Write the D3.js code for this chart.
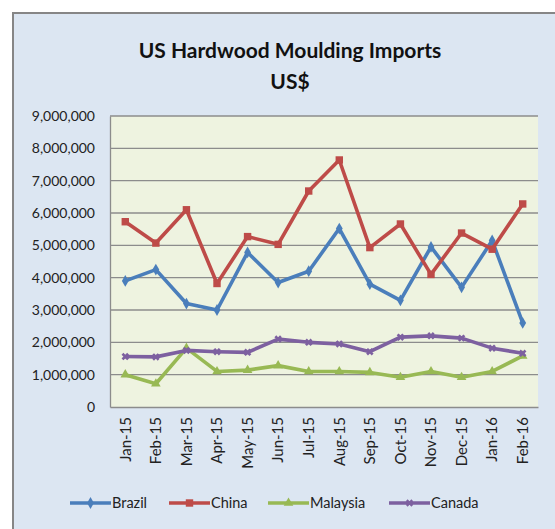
<!DOCTYPE html>
<html>
  <head>
    <meta charset="utf-8">
    <title>US Hardwood Moulding Imports</title>
    <style media="screen">
    body{margin: 0; background: #fff}
    text{font-family: Lato, "Open Sans", sans-serif}
    </style>
  </head>
  <body>
    <script src="https://d3js.org/d3.v7.min.js"></script>
    <script type="text/javascript">
      var w = 555, h = 529;

      var months = ['Jan-15','Feb-15','Mar-15','Apr-15','May-15','Jun-15','Jul-15',
                    'Aug-15','Sep-15','Oct-15','Nov-15','Dec-15','Jan-16','Feb-16'];
      var brazil   = [3900000,4250000,3200000,3000000,4780000,3850000,4200000,5520000,3800000,3300000,4950000,3700000,5150000,2600000];
      var china    = [5730000,5070000,6100000,3820000,5270000,5030000,6680000,7640000,4930000,5660000,4100000,5380000,4880000,6280000];
      var malaysia = [1000000,720000,1820000,1100000,1140000,1280000,1100000,1100000,1070000,920000,1100000,920000,1100000,1580000];
      var canada   = [1560000,1550000,1750000,1710000,1690000,2100000,2000000,1950000,1710000,2160000,2200000,2130000,1820000,1660000];
      var yTicks = d3.range(0, 9000001, 1000000);

      var series = [
        {name: 'Brazil', values: brazil, color: '#4a7ebb', marker: 'diamond'},
        {name: 'China', values: china, color: '#be4b48', marker: 'square'},
        {name: 'Malaysia', values: malaysia, color: '#98b954', marker: 'triangle'},
        {name: 'Canada', values: canada, color: '#7d60a0', marker: 'star'}
      ];

      var svg = d3.select('body').append('svg')
        .attr('width', w)
        .attr('height', h)

      // outer chart box
      svg.append('rect')
        .attr('x', 13).attr('y', 13)
        .attr('width', w + 10).attr('height', h + 10)
        .attr('fill', '#dce6f2')
        .attr('stroke', '#868686')
        .attr('stroke-width', 2)

      svg.append('text')
        .attr('x', 290).attr('y', 58)
        .attr('text-anchor', 'middle')
        .attr('font-size', 21).attr('font-weight', 'bold')
        .attr('fill', '#111')
        .text('US Hardwood Moulding Imports')
      svg.append('text')
        .attr('x', 290).attr('y', 89)
        .attr('text-anchor', 'middle')
        .attr('font-size', 21).attr('font-weight', 'bold')
        .attr('fill', '#111')
        .text('US$')

      var pl = 110, pt = 116, pr = 538, pb = 407;

      var x = d3.scaleBand().domain(months).range([pl, pr]);
      var y = d3.scaleLinear().domain([0, 9000000]).range([pb, pt]);

      svg.append('rect')
        .attr('x', pl).attr('y', pt)
        .attr('width', pr - pl).attr('height', pb - pt)
        .attr('fill', '#eef3e0')

      svg.append('g')
        .selectAll('line')
        .data(yTicks.slice(1))
        .enter().append('line')
          .attr('x1', pl).attr('x2', pr)
          .attr('y1', function(d){ return y(d) })
          .attr('y2', function(d){ return y(d) })
          .attr('stroke', '#8c8c8c')
          .attr('stroke-width', 1.3)

      var yAxis = svg.append('g')
        .attr('transform', 'translate(' + pl + ',0)')
        .call(d3.axisLeft(y).tickValues(yTicks).tickSize(0).tickPadding(15)
          .tickFormat(function(d){ return d === 0 ? '0' : d3.format(',')(d) }))
      yAxis.select('.domain').attr('stroke', '#8c8c8c').attr('stroke-width', 1.3)
      yAxis.selectAll('text').attr('font-size', 14).attr('fill', '#222')
        .style('font-family', 'Lato, "Open Sans", sans-serif')

      var xAxis = svg.append('g')
        .attr('transform', 'translate(0,' + pb + ')')
        .call(d3.axisBottom(x).tickSize(0).tickPadding(0))
      xAxis.select('.domain').attr('stroke', '#8c8c8c').attr('stroke-width', 1.3)
      xAxis.selectAll('text')
        .attr('font-size', 15).attr('fill', '#222')
        .style('font-family', 'Lato, "Open Sans", sans-serif')
        .attr('text-anchor', 'end')
        .attr('dy', '0.35em')
        .attr('transform', 'translate(0,10) rotate(-90)')

      var cx = function(i){ return x(months[i]) + x.bandwidth() / 2 };

      var line = d3.line()
        .x(function(d, i){ return cx(i) })
        .y(function(d){ return y(d) })

      var symbolType = {
        diamond: d3.symbolDiamond,
        square: d3.symbolSquare,
        triangle: d3.symbolTriangle,
        star: d3.symbolCross
      };
      var symbolSize = {diamond: 40, square: 55, triangle: 40, star: 35};

      series.forEach(function(s){
        var g = svg.append('g');
        g.append('path')
          .datum(s.values)
          .attr('d', line)
          .attr('fill', 'none')
          .attr('stroke', s.color)
          .attr('stroke-width', 3.6)
          .attr('stroke-linejoin', 'round')
        g.selectAll('path.m')
          .data(s.values)
          .enter().append('path')
            .attr('class', 'm')
            .attr('d', d3.symbol().type(symbolType[s.marker]).size(symbolSize[s.marker]))
            .attr('transform', function(d, i){
              return 'translate(' + cx(i) + ',' + y(d) + ')' + (s.marker === 'star' ? ' rotate(45)' : '')
            })
            .attr('fill', s.color)
      })

      // legend
      var legendX = [70, 169, 268, 389];
      var legend = svg.append('g')
      series.forEach(function(s, i){
        var lg = legend.append('g').attr('transform', 'translate(' + legendX[i] + ',503)');
        lg.append('line')
          .attr('x1', 0).attr('x2', 41)
          .attr('stroke', s.color).attr('stroke-width', 3.6)
        lg.append('path')
          .attr('d', d3.symbol().type(symbolType[s.marker]).size(symbolSize[s.marker]))
          .attr('transform', 'translate(20.5,0)' + (s.marker === 'star' ? ' rotate(45)' : ''))
          .attr('fill', s.color)
        lg.append('text')
          .attr('x', 42).attr('y', 0).attr('dy', '0.35em')
          .attr('font-size', 14.5).attr('fill', '#222')
          .text(s.name)
      })
    </script>
  </body>
</html>
